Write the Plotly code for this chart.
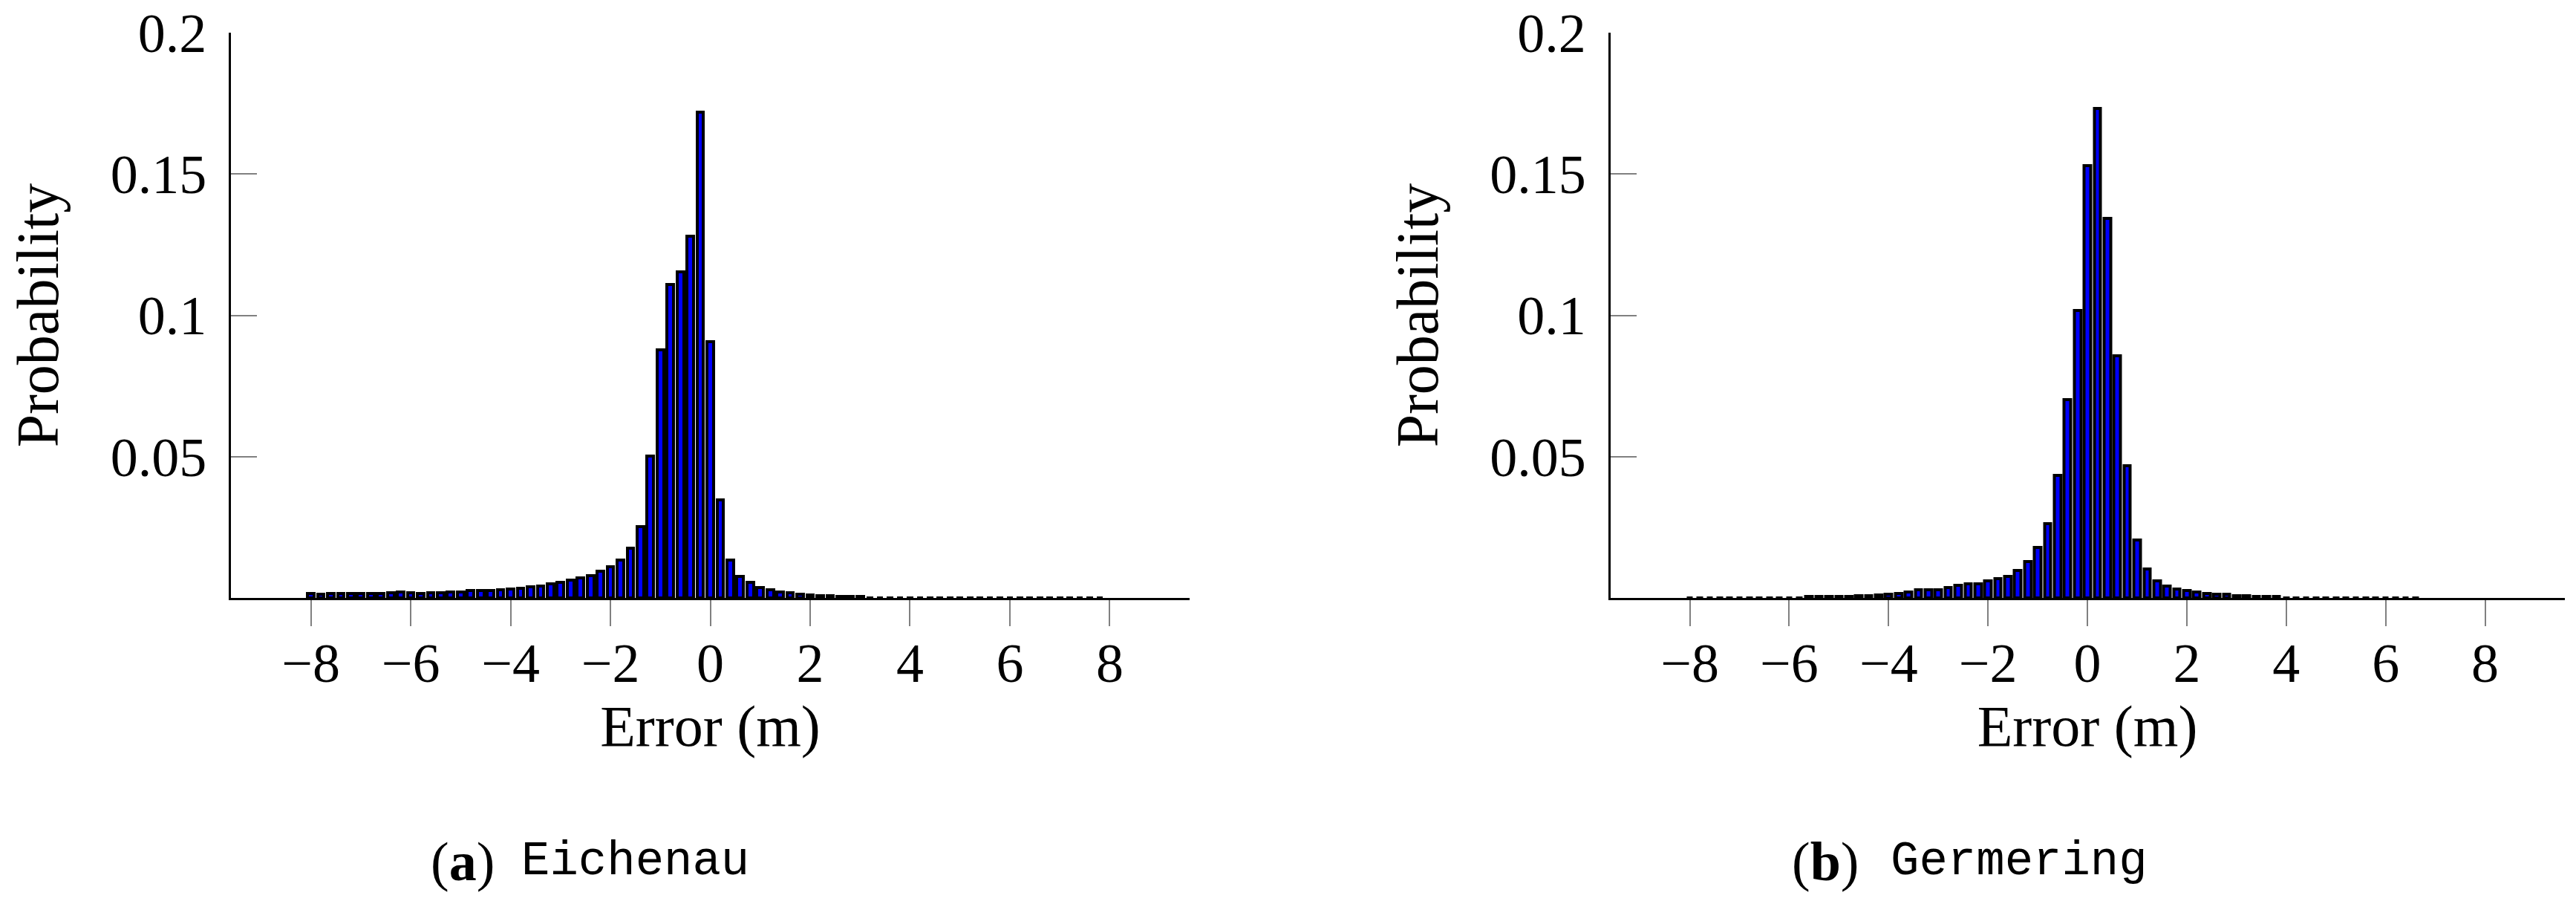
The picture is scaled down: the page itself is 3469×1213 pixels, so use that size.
import plotly.graph_objects as go

# ---- data ----
eich_x = [-8.0, -7.8, -7.6, -7.4, -7.2, -7.0, -6.8, -6.6, -6.4, -6.2,
          -6.0, -5.8, -5.6, -5.4, -5.2, -5.0, -4.8, -4.6, -4.4, -4.2,
          -4.0, -3.8, -3.6, -3.4, -3.2, -3.0, -2.8, -2.6, -2.4, -2.2,
          -2.0, -1.8, -1.6, -1.4, -1.2, -1.0, -0.8, -0.6, -0.4, -0.2,
          0.0, 0.2, 0.4, 0.6, 0.8, 1.0, 1.2, 1.4, 1.6, 1.8,
          2.0, 2.2, 2.4, 2.6, 2.8, 3.0, 3.2, 3.4, 3.6, 3.8,
          4.0, 4.2, 4.4, 4.6, 4.8, 5.0, 5.2, 5.4, 5.6, 5.8,
          6.0, 6.2, 6.4, 6.6, 6.8, 7.0, 7.2, 7.4, 7.6, 7.8]
eich_p = [0.0017, 0.0014, 0.0017, 0.0017, 0.0017, 0.0017, 0.0017, 0.0017, 0.0019, 0.0022,
          0.0019, 0.0017, 0.0019, 0.0019, 0.0022, 0.0022, 0.0025, 0.0027, 0.0027, 0.0030,
          0.0032, 0.0035, 0.0039, 0.0043, 0.0049, 0.0054, 0.0062, 0.0070, 0.0080, 0.0094,
          0.0110, 0.0135, 0.0175, 0.0251, 0.0503, 0.0879, 0.1110, 0.1155, 0.1280, 0.1718,
          0.0906, 0.0346, 0.0135, 0.0077, 0.0054, 0.0038, 0.0028, 0.0022, 0.0018, 0.0012,
          0.0010, 0.0007, 0.0009, 0.0006, 0.0006, 0.0004, 0.0001, 0.0001, 0.0001, 0.0001,
          0.0001, 0.0001, 0.0001, 0.0001, 0.0001, 0.0001, 0.0001, 0.0001, 0.0001, 0.0001,
          0.0001, 0.0001, 0.0001, 0.0001, 0.0001, 0.0001, 0.0001, 0.0001, 0.0001, 0.0001]

germ_x = [-8.0, -7.8, -7.6, -7.4, -7.2, -7.0, -6.8, -6.6, -6.4, -6.2,
          -6.0, -5.8, -5.6, -5.4, -5.2, -5.0, -4.8, -4.6, -4.4, -4.2,
          -4.0, -3.8, -3.6, -3.4, -3.2, -3.0, -2.8, -2.6, -2.4, -2.2,
          -2.0, -1.8, -1.6, -1.4, -1.2, -1.0, -0.8, -0.6, -0.4, -0.2,
          0.0, 0.2, 0.4, 0.6, 0.8, 1.0, 1.2, 1.4, 1.6, 1.8,
          2.0, 2.2, 2.4, 2.6, 2.8, 3.0, 3.2, 3.4, 3.6, 3.8,
          4.0, 4.2, 4.4, 4.6, 4.8, 5.0, 5.2, 5.4, 5.6, 5.8,
          6.0, 6.2, 6.4, 6.6]
germ_p = [0.0001, 0.0001, 0.0001, 0.0001, 0.0001, 0.0001, 0.0001, 0.0001, 0.0001, 0.0001,
          0.0001, 0.0001, 0.0004, 0.0006, 0.0006, 0.0006, 0.0006, 0.0009, 0.0009, 0.0011,
          0.0014, 0.0017, 0.0022, 0.0030, 0.0030, 0.0030, 0.0038, 0.0046, 0.0050, 0.0051,
          0.0061, 0.0069, 0.0077, 0.0098, 0.0130, 0.0180, 0.0264, 0.0434, 0.0702, 0.1017,
          0.1529, 0.1733, 0.1344, 0.0858, 0.0469, 0.0206, 0.0103, 0.0061, 0.0043, 0.0032,
          0.0025, 0.0021, 0.0017, 0.0014, 0.0014, 0.0009, 0.0009, 0.0006, 0.0006, 0.0004,
          0.0001, 0.0001, 0.0001, 0.0001, 0.0001, 0.0001, 0.0001, 0.0001, 0.0001, 0.0001,
          0.0001, 0.0001, 0.0001, 0.0001]

x_ticks = [-8, -6, -4, -2, 0, 2, 4, 6, 8]
x_tick_text = ["\u22128", "\u22126", "\u22124", "\u22122", "0", "2", "4", "6", "8"]
y_ticks = [0.05, 0.1, 0.15, 0.2]
y_tick_text = ["0.05", "0.1", "0.15", "0.2"]
caption_letters = ["a", "b"]
caption_names = ["Eichenau", "Germering"]

# ---- style / layout helpers ----
SERIF = "Liberation Serif"
MONO = "Liberation Mono"
W, H = 3469, 1213


def fx(pix):
    return pix / W


def fy(pix):
    return (H - pix) / H


fig = go.Figure()
bar_style = dict(marker=dict(color="#0000ff", line=dict(color="black", width=4)),
                 width=0.13, showlegend=False, hoverinfo="x+y")
fig.add_trace(go.Bar(x=eich_x, y=eich_p, xaxis="x", yaxis="y", name="Eichenau", **bar_style))
fig.add_trace(go.Bar(x=germ_x, y=germ_p, xaxis="x2", yaxis="y2", name="Germering", **bar_style))

xdom = [[fx(311), fx(1602)], [fx(2168.5), fx(3453.6)]]
ydom = [fy(805), fy(44)]

common_x = dict(range=[-9.6, 9.6], tickmode="array", tickvals=x_ticks, ticktext=x_tick_text,
                ticks="outside", ticklen=35, tickwidth=2, tickcolor="#808080",
                showline=True, linecolor="black", linewidth=3, mirror=False,
                showgrid=False, zeroline=False, automargin=False, ticklabelstandoff=-14,
                ticklabeloverflow="allow",
                tickfont=dict(family=SERIF, size=74, color="black"),
                title=dict(text="Error (m)", font=dict(family=SERIF, size=78, color="black"), standoff=0))
common_y = dict(range=[0, 0.2], tickmode="array", tickvals=y_ticks, ticktext=y_tick_text,
                ticks="inside", ticklen=35, tickwidth=2, tickcolor="#808080",
                showline=True, linecolor="black", linewidth=3,
                showgrid=False, zeroline=False, automargin=False, domain=ydom,
                ticklabelstandoff=15, ticklabeloverflow="allow",
                tickfont=dict(family=SERIF, size=74, color="black"),
                title=dict(text="Probability", font=dict(family=SERIF, size=80, color="black"), standoff=44))

fig.update_layout(
    template="none",
    width=W, height=H,
    margin=dict(l=0, r=0, t=0, b=0, pad=0),
    paper_bgcolor="white", plot_bgcolor="white",
    xaxis=dict(domain=xdom[0], anchor="y", **common_x),
    yaxis=dict(anchor="x", **common_y),
    xaxis2=dict(domain=xdom[1], anchor="y2", **common_x),
    yaxis2=dict(anchor="x2", **common_y),
    bargap=0,
)

letter_left = [578, 2411]
name_left = [700, 2544]
for letter, name, lx, nx in zip(caption_letters, caption_names, letter_left, name_left):
    fig.add_annotation(x=fx(lx), y=fy(1160), xref="paper", yref="paper",
                       xanchor="left", yanchor="middle", showarrow=False,
                       text=f"(<b>{letter}</b>)",
                       font=dict(family=SERIF, size=74, color="black"))
    fig.add_annotation(x=fx(nx), y=fy(1160), xref="paper", yref="paper",
                       xanchor="left", yanchor="middle", showarrow=False,
                       text=name,
                       font=dict(family=MONO, size=64, color="black"))

fig.write_html("out.html",
               config={"displayModeBar": False},
               post_script="document.body.style.margin='0px';document.body.style.overflow='hidden';")
